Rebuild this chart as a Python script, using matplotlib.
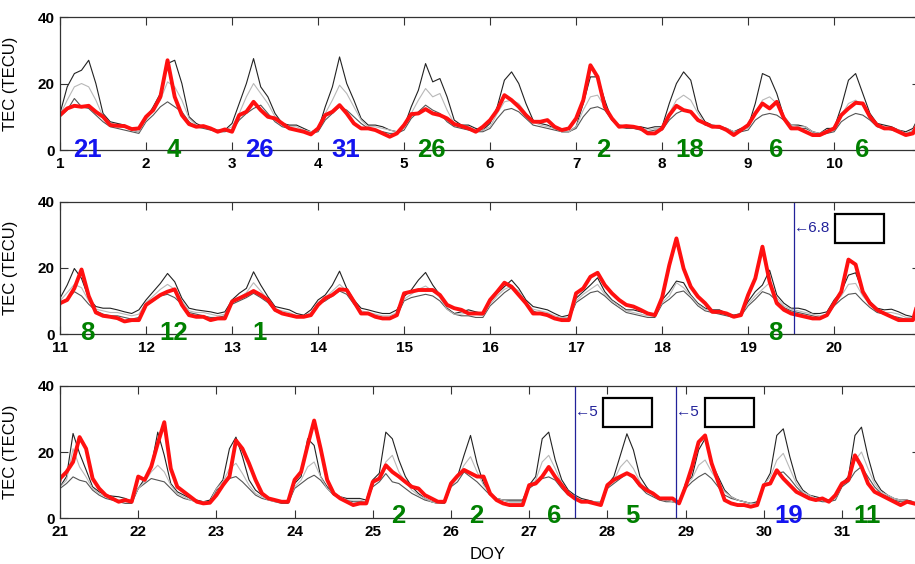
import matplotlib
import matplotlib.pyplot as plt
import matplotlib.transforms as mtransforms
import numpy as np
from matplotlib.patches import Rectangle

matplotlib.use("Agg")

plt.rcParams["font.family"] = ["Liberation Sans", "DejaVu Sans"]

SAMPLES_PER_DAY = 12
FIRST_DOY = 1

# observed TEC, one row per day, 2-hour samples (TECU)
red_tec = [
    [10.5, 12.5, 13.3, 13.0, 13.3, 11.5, 10.0, 7.5, 7.3, 7.2, 6.3, 6.5],
    [10.0, 12.0, 16.0, 27.0, 16.0, 10.5, 7.8, 7.0, 7.2, 6.5, 5.5, 6.2],
    [5.5, 10.5, 11.5, 14.5, 12.0, 10.0, 9.5, 8.0, 6.5, 6.0, 5.5, 4.7],
    [6.5, 10.5, 11.5, 13.5, 11.0, 8.0, 6.5, 6.5, 6.0, 5.0, 4.0, 5.0],
    [7.5, 10.8, 11.0, 12.3, 11.0, 10.5, 9.5, 7.8, 7.2, 6.5, 5.5, 7.0],
    [9.0, 12.0, 16.5, 15.0, 13.0, 10.5, 8.5, 8.5, 9.0, 7.0, 6.0, 6.5],
    [9.5, 15.0, 25.5, 22.0, 13.0, 9.5, 7.0, 7.2, 7.0, 6.5, 5.0, 5.0],
    [6.5, 10.5, 13.3, 12.0, 11.5, 9.0, 8.0, 7.0, 7.0, 6.0, 4.5, 6.0],
    [7.5, 11.0, 14.0, 12.5, 14.5, 9.5, 6.5, 6.5, 5.5, 4.5, 4.5, 5.5],
    [6.5, 10.5, 12.5, 14.2, 14.0, 10.0, 7.5, 6.5, 6.5, 5.5, 4.5, 5.0],
    [9.3, 10.3, 13.8, 19.5, 11.5, 6.5, 5.5, 5.2, 4.8, 3.8, 4.2, 4.2],
    [8.8, 10.3, 11.8, 12.8, 13.5, 8.8, 5.7, 5.2, 5.2, 4.2, 4.7, 4.7],
    [9.8, 10.8, 11.8, 13.0, 11.8, 10.3, 7.3, 6.2, 5.7, 5.2, 5.2, 5.7],
    [8.8, 10.8, 11.8, 13.5, 13.3, 9.8, 6.2, 6.2, 5.2, 4.7, 4.7, 5.7],
    [12.3, 12.8, 13.3, 13.3, 13.3, 11.8, 8.8, 7.8, 7.3, 6.2, 6.2, 6.2],
    [10.3, 12.8, 15.5, 14.3, 11.8, 9.3, 6.2, 6.2, 5.7, 4.7, 4.2, 4.2],
    [12.3, 13.8, 17.3, 18.5, 14.8, 12.3, 10.3, 8.8, 8.3, 7.3, 6.2, 5.7],
    [11.0, 20.8, 28.9, 19.8, 14.3, 11.3, 9.3, 6.7, 6.7, 6.2, 5.2, 5.7],
    [11.8, 16.8, 26.4, 15.8, 9.3, 7.3, 6.2, 5.7, 5.2, 4.7, 4.7, 5.7],
    [9.3, 12.8, 22.5, 21.0, 12.8, 9.3, 7.3, 6.2, 5.2, 4.2, 4.2, 4.2],
    [12.0, 14.0, 17.0, 24.5, 21.0, 12.0, 9.0, 7.0, 6.0, 5.0, 5.5, 5.0],
    [12.6, 11.6, 15.6, 22.6, 29.0, 15.0, 9.5, 8.0, 6.5, 5.0, 4.5, 4.7],
    [7.0, 10.0, 12.6, 23.5, 21.0, 16.6, 11.6, 7.5, 6.0, 5.5, 5.0, 5.0],
    [11.6, 14.0, 22.0, 29.5, 21.0, 11.6, 7.5, 6.0, 5.0, 4.0, 4.5, 4.5],
    [11.0, 12.0, 16.0, 14.0, 12.6, 11.0, 9.5, 9.0, 7.0, 6.0, 5.0, 5.0],
    [10.5, 12.8, 14.6, 13.6, 12.6, 12.6, 7.5, 5.5, 4.5, 4.0, 4.0, 4.0],
    [10.0, 10.5, 12.6, 15.5, 12.5, 10.0, 7.5, 6.0, 5.0, 5.0, 4.5, 4.0],
    [10.0, 11.6, 12.6, 13.6, 12.6, 10.0, 8.5, 7.5, 6.0, 6.0, 6.0, 4.5],
    [9.5, 15.6, 23.0, 25.0, 16.6, 11.0, 5.5, 4.5, 4.0, 4.0, 3.5, 4.0],
    [10.0, 10.5, 14.5, 12.0, 10.0, 8.0, 7.0, 6.0, 5.5, 6.0, 5.0, 7.0],
    [10.5, 11.6, 19.0, 15.6, 10.5, 8.0, 7.0, 6.0, 5.0, 4.0, 5.0, 4.5],
]

# upper bound of the quiet-day reference
upper_tec = [
    [11.0, 19.0, 23.0, 24.0, 27.0, 20.0, 11.0, 8.5, 8.0, 7.5, 6.0, 5.5],
    [9.5, 13.0, 17.0, 26.0, 27.0, 20.0, 10.0, 8.0, 7.0, 6.5, 6.0, 6.0],
    [8.0, 14.0, 20.0, 27.5, 19.0, 16.0, 11.0, 8.0, 7.5, 7.5, 6.5, 5.5],
    [6.0, 13.0, 19.0, 28.0, 20.0, 15.0, 9.5, 7.5, 7.5, 7.0, 6.0, 5.5],
    [7.0, 13.0, 18.0, 26.0, 20.5, 21.5, 16.0, 9.0, 7.5, 7.5, 6.5, 6.0],
    [8.0, 13.0, 21.0, 23.5, 20.0, 14.0, 9.0, 8.0, 7.5, 6.5, 5.5, 5.5],
    [7.0, 14.0, 22.0, 22.0, 15.0, 9.0, 7.5, 7.2, 7.0, 7.0, 6.5, 7.0],
    [7.0, 14.0, 20.0, 23.5, 21.0, 12.0, 8.5, 7.5, 7.2, 6.5, 5.5, 6.5],
    [7.0, 14.0, 23.0, 22.0, 17.0, 10.0, 7.5, 7.5, 7.0, 5.5, 5.0, 6.5],
    [6.5, 13.0, 21.0, 23.0, 17.0, 11.0, 8.0, 7.5, 7.0, 6.0, 5.5, 6.5],
    [10.8, 14.8, 19.8, 16.8, 10.8, 8.3, 7.8, 7.8, 7.3, 6.7, 6.2, 7.3],
    [10.3, 12.8, 15.3, 18.3, 15.8, 10.8, 7.8, 7.3, 7.0, 6.7, 6.2, 6.7],
    [10.3, 12.3, 13.8, 18.8, 14.8, 11.3, 8.3, 7.8, 7.3, 6.2, 5.7, 7.3],
    [10.3, 11.8, 14.8, 19.0, 13.8, 10.3, 7.8, 7.3, 6.7, 6.2, 6.2, 7.3],
    [11.3, 13.3, 16.3, 18.6, 14.8, 11.8, 7.8, 6.2, 6.7, 7.3, 6.7, 6.2],
    [9.8, 12.3, 14.3, 16.3, 13.8, 10.3, 8.3, 7.8, 7.3, 6.2, 5.2, 5.7],
    [10.8, 12.8, 14.8, 17.0, 12.8, 10.3, 8.8, 7.3, 7.3, 6.7, 6.2, 6.2],
    [10.3, 12.8, 16.0, 15.5, 11.8, 9.3, 7.8, 7.3, 7.3, 6.2, 5.7, 6.2],
    [9.8, 12.8, 14.8, 19.3, 11.8, 9.3, 7.8, 7.8, 7.3, 6.2, 6.2, 6.7],
    [10.3, 12.8, 17.8, 18.5, 12.8, 9.8, 7.8, 7.3, 7.5, 6.7, 5.7, 5.2],
    [9.5, 12.6, 25.6, 19.6, 14.6, 9.5, 8.0, 7.0, 6.7, 6.5, 6.0, 5.0],
    [9.0, 12.0, 15.6, 26.0, 19.0, 10.5, 8.0, 7.0, 6.0, 5.5, 5.0, 5.5],
    [9.0, 11.6, 21.0, 24.5, 18.6, 11.6, 8.5, 7.0, 6.0, 5.5, 5.0, 5.5],
    [10.5, 12.6, 24.0, 22.0, 12.6, 9.5, 7.5, 6.5, 6.0, 6.0, 6.0, 5.5],
    [11.6, 13.6, 26.0, 24.0, 17.6, 12.6, 9.5, 7.5, 6.0, 5.0, 4.5, 5.0],
    [10.0, 12.6, 19.0, 25.0, 16.6, 10.5, 7.5, 6.0, 5.5, 5.5, 5.5, 5.5],
    [10.0, 12.6, 24.0, 26.0, 17.6, 11.6, 8.5, 7.0, 6.0, 5.5, 5.0, 5.0],
    [10.0, 12.6, 19.0, 25.5, 20.6, 12.6, 9.5, 7.0, 6.0, 5.5, 5.0, 4.5],
    [10.5, 12.6, 20.6, 24.0, 16.6, 12.6, 8.5, 6.5, 5.5, 5.0, 4.5, 5.0],
    [10.0, 13.6, 25.0, 27.0, 18.6, 11.6, 8.5, 7.0, 6.5, 6.0, 5.5, 6.5],
    [10.5, 12.6, 25.0, 27.5, 18.6, 11.6, 8.5, 7.0, 6.0, 5.5, 5.5, 5.0],
]

# median of the quiet-day reference
median_tec = [
    [10.5, 15.0, 19.0, 20.0, 19.0, 15.0, 10.0, 8.0, 7.5, 7.0, 6.0, 5.5],
    [9.0, 12.0, 15.0, 20.5, 19.0, 15.0, 9.5, 7.5, 7.0, 6.5, 6.0, 6.0],
    [7.0, 11.0, 16.0, 20.0, 17.0, 14.0, 10.0, 7.5, 7.0, 7.0, 6.0, 5.5],
    [6.0, 11.0, 15.0, 19.5, 17.0, 13.0, 9.0, 7.0, 7.0, 6.5, 6.0, 5.5],
    [6.5, 11.0, 15.0, 18.5, 16.0, 17.0, 12.0, 8.0, 7.0, 7.0, 6.0, 6.0],
    [7.0, 11.0, 14.5, 15.0, 14.0, 11.0, 8.5, 7.5, 7.0, 6.5, 5.5, 5.5],
    [7.0, 12.0, 16.0, 16.5, 13.0, 9.0, 7.5, 7.0, 7.0, 6.5, 6.0, 6.5],
    [6.5, 11.0, 15.0, 16.5, 15.0, 11.0, 8.0, 7.5, 7.0, 6.5, 5.5, 6.0],
    [6.5, 11.0, 15.0, 16.0, 14.0, 10.0, 7.5, 7.0, 7.0, 5.5, 5.0, 6.0],
    [6.0, 10.5, 14.0, 15.0, 13.5, 10.0, 7.5, 7.0, 6.5, 6.0, 5.0, 6.0],
    [10.0, 12.5, 15.0, 14.0, 10.0, 7.5, 7.0, 6.5, 6.5, 6.0, 5.5, 6.0],
    [9.5, 11.5, 13.5, 15.0, 13.5, 10.0, 7.0, 6.5, 6.5, 6.0, 5.5, 6.0],
    [9.5, 11.0, 12.5, 15.5, 13.0, 10.5, 7.5, 7.0, 6.5, 5.5, 5.5, 6.5],
    [9.5, 11.0, 13.0, 15.0, 13.0, 9.5, 7.0, 6.5, 6.0, 5.5, 5.5, 6.5],
    [10.5, 12.0, 13.5, 14.5, 13.0, 11.0, 7.5, 6.0, 6.0, 6.5, 6.0, 5.5],
    [9.0, 11.5, 13.5, 14.5, 13.0, 9.5, 7.5, 7.0, 6.5, 5.5, 5.0, 5.0],
    [10.0, 12.0, 13.5, 15.0, 12.0, 10.0, 8.5, 7.0, 6.5, 6.0, 5.5, 5.5],
    [9.5, 11.5, 15.5, 14.0, 11.5, 9.0, 7.5, 7.0, 6.5, 6.0, 5.5, 6.0],
    [9.0, 11.5, 13.5, 15.5, 11.0, 8.5, 7.5, 7.0, 6.5, 6.0, 5.5, 6.0],
    [9.5, 11.5, 15.0, 15.3, 11.5, 9.0, 7.0, 6.5, 6.5, 6.0, 5.0, 5.0],
    [9.5, 11.5, 21.0, 15.5, 12.5, 9.0, 7.5, 6.5, 6.0, 5.5, 5.0, 5.0],
    [9.0, 11.0, 14.0, 16.0, 14.0, 10.0, 7.5, 6.5, 5.5, 5.0, 5.0, 5.0],
    [9.0, 11.0, 15.0, 16.6, 13.5, 10.0, 7.5, 6.5, 5.5, 5.0, 5.0, 5.0],
    [9.5, 11.5, 15.5, 17.0, 12.5, 9.0, 7.5, 6.5, 5.5, 5.5, 5.5, 5.0],
    [10.5, 12.0, 17.0, 19.0, 14.0, 11.0, 8.5, 7.0, 6.0, 5.0, 4.5, 5.0],
    [10.0, 12.0, 16.0, 18.6, 14.0, 10.0, 7.5, 6.0, 5.5, 5.0, 5.0, 5.0],
    [9.5, 11.5, 17.0, 19.0, 15.0, 10.5, 8.0, 6.5, 5.5, 5.0, 5.0, 5.0],
    [9.5, 11.5, 15.5, 17.6, 15.0, 11.0, 8.5, 7.0, 6.0, 5.5, 5.0, 4.5],
    [10.0, 12.0, 16.0, 17.6, 14.0, 11.0, 8.0, 6.5, 5.5, 5.0, 4.5, 4.5],
    [10.0, 12.5, 17.5, 19.6, 15.0, 10.5, 8.0, 7.0, 6.0, 5.5, 5.0, 6.0],
    [10.0, 12.0, 17.5, 20.0, 15.0, 10.5, 8.0, 7.0, 6.0, 5.5, 5.0, 5.0],
]

# lower bound of the quiet-day reference
lower_tec = [
    [10.0, 12.0, 15.5, 13.0, 12.5, 10.5, 8.5, 7.0, 6.5, 6.0, 5.5, 5.0],
    [8.5, 10.5, 13.0, 14.5, 13.0, 11.5, 8.5, 7.0, 6.5, 6.0, 5.5, 5.5],
    [6.0, 9.0, 11.0, 12.5, 13.5, 11.0, 8.5, 7.0, 6.5, 6.0, 5.5, 5.0],
    [5.5, 9.0, 11.0, 13.0, 12.0, 10.0, 8.0, 6.5, 6.0, 5.5, 5.0, 5.0],
    [6.0, 9.5, 11.5, 13.5, 12.0, 11.0, 8.5, 7.0, 6.5, 6.0, 5.5, 5.5],
    [6.5, 9.5, 12.0, 12.5, 11.5, 9.5, 7.5, 7.0, 6.5, 6.0, 5.5, 5.5],
    [6.5, 10.0, 12.5, 13.0, 12.0, 9.0, 7.0, 6.5, 6.5, 6.0, 5.5, 6.0],
    [6.0, 9.0, 11.0, 12.0, 11.5, 9.5, 7.5, 7.0, 6.5, 6.0, 5.0, 5.5],
    [6.0, 9.0, 10.5, 11.0, 10.5, 9.0, 7.0, 6.5, 6.5, 5.5, 4.5, 5.0],
    [5.5, 8.5, 10.0, 11.0, 10.5, 9.0, 7.0, 6.5, 6.0, 5.5, 5.0, 5.5],
    [9.0, 10.5, 12.8, 11.5, 9.0, 7.0, 6.0, 5.5, 5.5, 5.0, 4.5, 5.0],
    [8.5, 10.0, 11.5, 12.0, 11.0, 9.0, 6.5, 6.0, 5.5, 5.0, 5.0, 5.5],
    [9.0, 10.0, 11.0, 12.3, 11.0, 9.5, 7.0, 6.0, 5.5, 5.0, 5.0, 6.0],
    [9.0, 10.0, 11.5, 13.0, 12.0, 9.0, 6.5, 6.0, 5.5, 5.0, 5.0, 5.5],
    [10.0, 11.0, 11.5, 12.0, 11.5, 10.0, 7.5, 6.0, 5.5, 5.5, 5.0, 5.0],
    [8.5, 10.5, 12.5, 14.0, 12.0, 9.0, 7.0, 6.0, 5.5, 5.0, 4.5, 4.5],
    [9.5, 11.0, 12.5, 13.0, 11.5, 9.5, 8.0, 6.5, 6.0, 5.5, 5.0, 5.0],
    [9.0, 10.5, 12.5, 13.0, 11.0, 8.5, 7.0, 6.5, 6.0, 5.5, 5.0, 5.5],
    [8.5, 10.5, 12.8, 12.0, 10.0, 8.0, 7.0, 6.5, 6.0, 5.5, 5.0, 5.5],
    [8.5, 10.5, 12.0, 12.3, 10.0, 8.0, 6.5, 6.0, 5.5, 5.0, 4.5, 4.5],
    [9.0, 10.5, 12.5, 11.5, 11.0, 8.5, 7.0, 6.0, 5.5, 5.0, 4.5, 4.5],
    [9.0, 10.5, 12.0, 11.5, 11.0, 9.0, 7.0, 6.0, 5.5, 5.0, 4.5, 4.5],
    [8.5, 10.0, 12.0, 12.6, 11.0, 9.0, 7.0, 6.0, 5.5, 5.0, 4.5, 4.5],
    [9.0, 10.5, 12.0, 13.0, 11.5, 9.0, 7.0, 6.0, 5.5, 5.0, 5.0, 5.0],
    [9.5, 11.0, 13.5, 11.0, 10.5, 9.0, 7.5, 6.5, 5.5, 5.0, 4.5, 4.5],
    [9.5, 11.0, 14.0, 12.5, 11.0, 9.0, 7.0, 6.0, 5.5, 5.0, 5.0, 5.0],
    [9.0, 10.5, 12.0, 12.5, 11.5, 9.0, 7.0, 6.0, 5.5, 5.0, 4.5, 4.5],
    [9.0, 10.5, 12.0, 13.6, 12.0, 9.5, 7.5, 6.5, 5.5, 5.0, 5.0, 4.5],
    [9.0, 11.0, 12.5, 13.6, 12.0, 9.5, 7.0, 6.0, 5.5, 5.0, 4.5, 4.5],
    [9.5, 11.0, 13.5, 14.0, 12.0, 9.5, 7.5, 6.5, 5.5, 5.0, 5.0, 5.5],
    [9.5, 11.0, 14.0, 15.6, 12.5, 9.5, 7.5, 6.5, 5.5, 5.0, 5.0, 5.0],
]

# daily index numbers written under each day
label_days = [1, 2, 3, 4, 5, 7, 8, 9, 10, 11, 12, 13, 19, 25, 26, 27, 28, 30, 31]
label_values = ["21", "4", "26", "31", "26", "2", "18", "6", "6",
                "8", "12", "1", "8", "2", "2", "6", "5", "19", "11"]
label_storm = [True, False, True, True, False, False, False, False, False,
               False, False, False, False, False, False, False, False, True, False]

# event markers (DOY, value)
event_doy = [19.53, 27.58, 28.88]
event_value = ["6.8", "5", "5"]

panel_ranges = [(1, 11), (11, 21), (21, 32)]

doy = FIRST_DOY + np.arange(len(red_tec) * SAMPLES_PER_DAY) / SAMPLES_PER_DAY
red = np.ravel(red_tec)
upper = np.ravel(upper_tec)
median = np.ravel(median_tec)
lower = np.ravel(lower_tec)

fig = plt.figure(figsize=(9.15, 5.64), dpi=100)
panel_boxes = [
    [0.0656, 0.734, 0.940, 0.2358],
    [0.0656, 0.4078, 0.940, 0.2346],
    [0.0656, 0.081, 0.940, 0.2351],
]
label_base = [-2.0, -1.8, -1.5]
spine_color = "#333333"
event_color = "#22229a"

axes = []
event_texts = []
for i, (start, end) in enumerate(panel_ranges):
    ax = fig.add_axes(panel_boxes[i])
    axes.append(ax)
    ax.plot(doy, upper, color="#222222", lw=0.8)
    ax.plot(doy, lower, color="#555555", lw=0.8)
    ax.plot(doy, median, color="#b8b8b8", lw=0.8)
    ax.plot(doy, red, color="#ff1010", lw=2.8, solid_joinstyle="round")

    ax.set_xlim(start, end)
    ax.set_ylim(0, 40)
    ax.set_yticks([0, 20, 40])
    ax.set_xticks(np.arange(start, end))
    ax.tick_params(direction="in", length=6, width=0.8, top=True, right=True,
                   color=spine_color, labelsize=11)
    ax.tick_params(axis="x", pad=5)
    ax.tick_params(axis="y", pad=4)
    for lab in ax.get_xticklabels() + ax.get_yticklabels():
        lab.set_fontweight("bold")
    for sp in ax.spines.values():
        sp.set_color(spine_color)
        sp.set_linewidth(0.9)
    ax.set_ylabel("TEC (TECU)", fontsize=12)
    ax.yaxis.set_label_coords(-0.049, 0.5)

    for day, val, storm in zip(label_days, label_values, label_storm):
        if start <= day < end:
            ax.text(day + 0.32, label_base[i], val, ha="center", va="baseline",
                    fontsize=18.5, fontweight="bold",
                    color="#1414f0" if storm else "#008000", clip_on=False)

    for ev, val in zip(event_doy, event_value):
        if start <= ev < end:
            ax.axvline(ev, color=event_color, lw=0.9)
            t = ax.text(ev, 32, "\u2190" + val, ha="left", va="center",
                        fontsize=11, color=event_color)
            event_texts.append((ax, t))

axes[-1].set_xlabel("DOY", fontsize=12)
axes[-1].xaxis.set_label_coords(0.497, -0.215)

# empty boxes drawn just right of each event label
fig.canvas.draw()
renderer = fig.canvas.get_renderer()
for ax, t in event_texts:
    bb = t.get_window_extent(renderer)
    yc = 0.5 * (bb.y0 + bb.y1)
    box = Rectangle((bb.x1 + 5, yc - 14.5), 49, 29,
                    transform=mtransforms.IdentityTransform(),
                    facecolor="white", edgecolor="black", lw=1.6, clip_on=False)
    fig.patches.append(box)
    box.set_figure(fig)

fig.savefig("out.png", dpi=100)
plt.close(fig)
